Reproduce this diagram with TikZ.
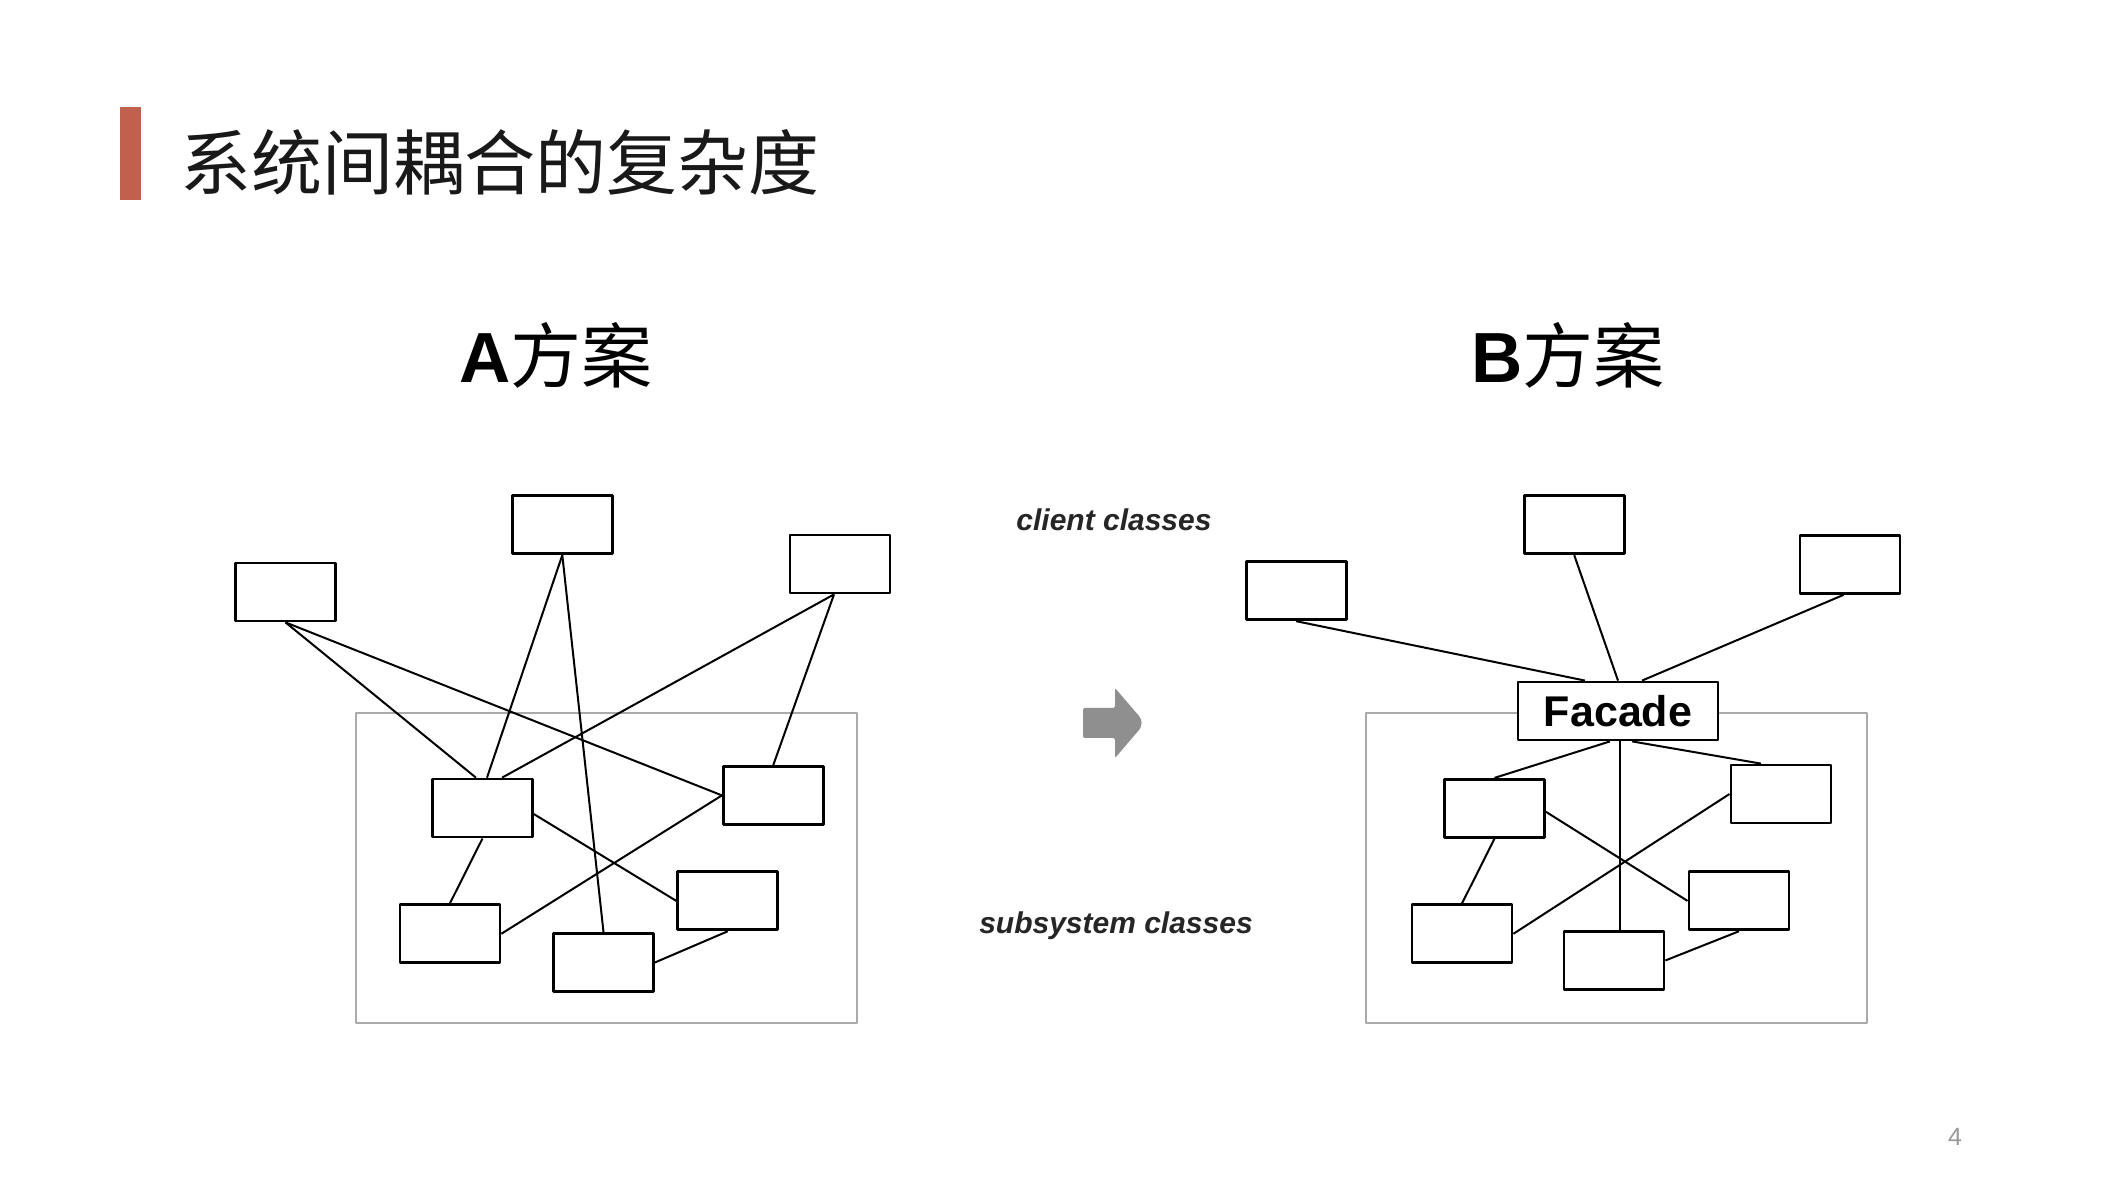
\documentclass[tikz,border=0pt]{standalone}
\usepackage{fontspec}
\setmainfont{Liberation Sans}
\newfontfamily\cjk{Noto Sans CJK SC}
\usetikzlibrary{positioning}
\definecolor{barred}{HTML}{C0614D}
\definecolor{arrowgray}{HTML}{8F8F8F}
\definecolor{framegray}{HTML}{AAAAAA}
\begin{document}
\begin{tikzpicture}[line join=bevel,
  cls/.style={draw=black,fill=white,line width=2.8bp,minimum width=100bp,minimum height=58bp,inner sep=0pt},
  facadebox/.style={draw=black,fill=white,line width=2.8bp,minimum width=200bp,minimum height=58bp,inner sep=0pt,font=\fontsize{43bp}{48bp}\selectfont\bfseries},
  link/.style={black,line width=2bp},
  subframe/.style={framegray,line width=1.8bp},
  tag/.style={black!85,font=\fontsize{30bp}{33bp}\selectfont\bfseries\itshape},
  plan/.style={anchor=base,inner sep=0pt,font=\fontsize{71bp}{76bp}\selectfont},
]
\useasboundingbox (0bp,0bp) rectangle (2120bp,1190bp);
\fill[white] (0bp,0bp) rectangle (2120bp,1190bp);
%% heading
\fill[barred] (120bp,990bp) rectangle (141bp,1083bp);
\node (title) at (180bp,1028bp) [anchor=west,inner sep=0pt,black!90,font=\fontsize{71bp}{80bp}\selectfont\cjk] {系统间耦合的复杂度};
\node (planA) at (556bp,807bp) [plan] {\bfseries A{\cjk\mdseries 方案}};
\node (planB) at (1568bp,807bp) [plan] {\bfseries B{\cjk\mdseries 方案}};
%% scheme A
\draw [subframe] (356bp,167bp) rectangle (857bp,477bp);
  \node (ca1) at (285.5bp,598bp) [cls] {};
  \node (ca2) at (562.3bp,665.3bp) [cls] {};
  \node (ca3) at (840bp,626bp) [cls] {};
  \node (sa1) at (482.5bp,381.9bp) [cls] {};
  \node (sa2) at (773.3bp,394.6bp) [cls] {};
  \node (sa3) at (727.7bp,289.1bp) [cls] {};
  \node (sa4) at (449.9bp,256.2bp) [cls] {};
  \node (sa5) at (603.5bp,227.5bp) [cls] {};
  \draw [link] (ca1.south) -- ([xshift=-6.5bp]sa1.north);
  \draw [link] (ca1.south) -- (sa2.west);
  \draw [link] (ca2.south) -- ([xshift=4.5bp]sa1.north);
  \draw [link] (ca2.south) -- (sa5.north);
  \draw [link] ([xshift=-6bp]ca3.south) -- ([xshift=19.5bp]sa1.north);
  \draw [link] ([xshift=-6bp]ca3.south) -- (sa2.north);
  \draw [link] (sa1.south) -- (sa4.north);
  \draw [link] ([yshift=-6bp]sa1.east) -- (sa3.west);
  \draw [link] (sa2.west) -- (sa4.east);
  \draw [link] (sa3.south) -- (sa5.east);
%% middle
\node (client) at (1114bp,670bp) [tag] {client classes};
\node (subsys) at (1116bp,264bp) [tag] {subsystem classes};
\fill [arrowgray,rounded corners=2bp] (1083bp,452bp) -- (1083bp,482bp) -- (1115bp,482bp) -- (1115bp,502bp)
  [rounded corners=9bp] -- (1145bp,467bp) [rounded corners=2bp] -- (1115bp,432bp) -- (1115bp,452bp) -- cycle;
%% scheme B
\draw [subframe] (1366bp,167bp) rectangle (1867bp,477bp);
  \node (cb1) at (1296.2bp,599.2bp) [cls] {};
  \node (cb2) at (1574.2bp,665.3bp) [cls] {};
  \node (cb3) at (1850bp,625.5bp) [cls] {};
  \node (facade) at (1618bp,479bp) [facadebox] {Facade};
  \node (sb1) at (1494.5bp,381.7bp) [cls] {};
  \node (sb2) at (1780.9bp,396bp) [cls] {};
  \node (sb3) at (1738.9bp,289.1bp) [cls] {};
  \node (sb4) at (1462bp,256.2bp) [cls] {};
  \node (sb5) at (1613.9bp,229.5bp) [cls] {};
  \draw [link] (cb1.south) -- ([xshift=-33bp]facade.north);
  \draw [link] (cb2.south) -- (facade.north);
  \draw [link] ([xshift=-6.5bp]cb3.south) -- ([xshift=24bp]facade.north);
  \draw [link] ([xshift=-8bp]facade.south) -- (sb1.north);
  \draw [link] ([xshift=2bp]facade.south) -- ([xshift=2bp]facade.south |- sb5.north);
  \draw [link] ([xshift=14bp]facade.south) -- ([xshift=-20bp]sb2.north);
  \draw [link] ([yshift=-3.5bp]sb1.east) -- (sb3.west);
  \draw [link] (sb2.west) -- (sb4.east);
  \draw [link] (sb4.north) -- (sb1.south);
  \draw [link] (sb3.south) -- (sb5.east);
%% page number
\node (page) at (1955bp,53bp) [black!40,font=\fontsize{25bp}{27bp}\selectfont] {4};
%
\end{tikzpicture}
\end{document}
